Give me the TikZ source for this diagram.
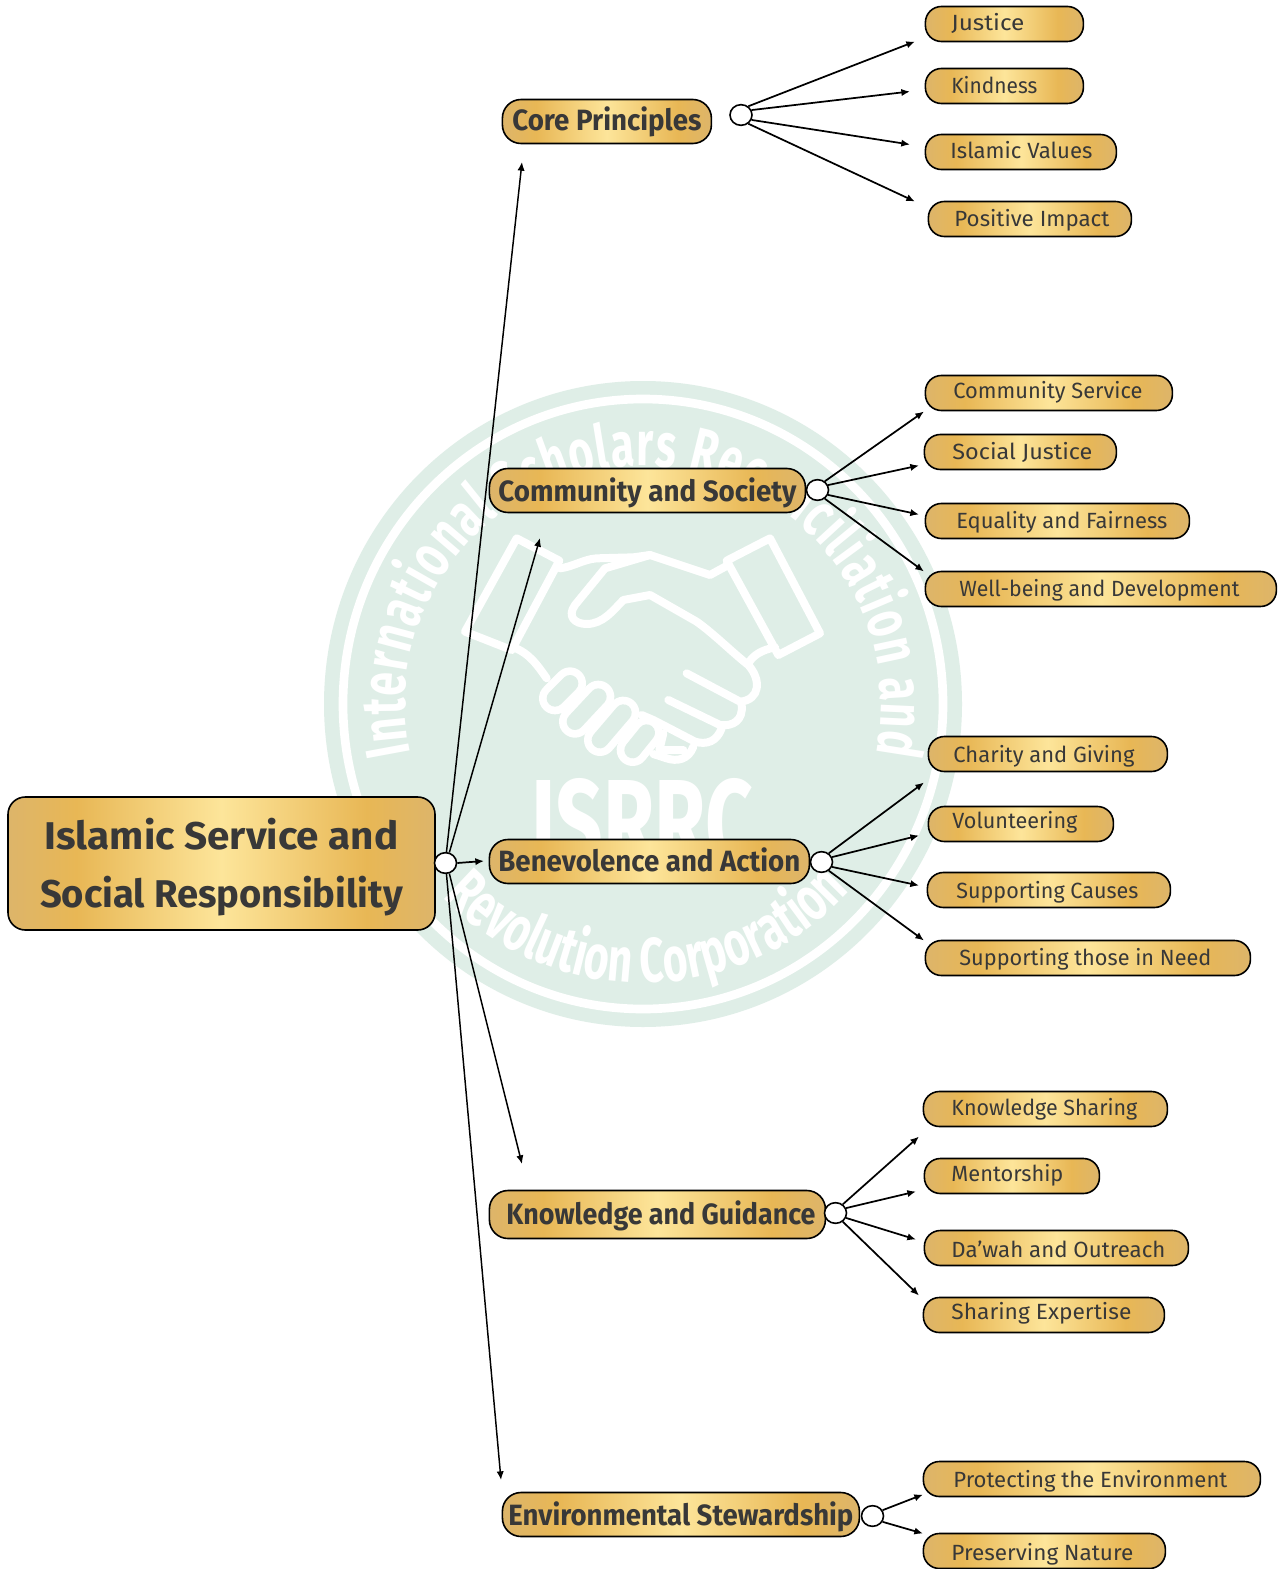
\documentclass[tikz,border=0pt]{standalone}
\usepackage{graphicx}
\usepackage{fontspec}
\setmainfont{Fira Sans}
\newfontfamily\wmfont[FakeStretch=0.68]{Fira Sans}
\usetikzlibrary{arrows.meta,decorations.text,shapes.geometric}
\definecolor{goldedge}{RGB}{221,181,106}
\definecolor{goldmid}{RGB}{232,183,85}
\definecolor{goldlight}{RGB}{253,229,154}
\definecolor{inktext}{RGB}{56,56,56}
\definecolor{discgreen}{RGB}{223,238,231}
\pgfdeclarehorizontalshading{goldbar}{100bp}{color(0bp)=(goldedge); color(25bp)=(goldedge); color(33bp)=(goldmid); color(50bp)=(goldlight); color(67bp)=(goldmid); color(75bp)=(goldedge); color(100bp)=(goldedge)}
\tikzset{
  goldbox/.style={draw=black,line width=1.2pt,shade,shading=goldbar,inner xsep=0pt,inner ysep=0pt,text=inktext,rectangle},
  leafbox/.style={goldbox,rounded corners=12pt,font=\fontsize{16.5}{20}\selectfont},
  midbox/.style={goldbox,rounded corners=14pt,font=\bfseries\fontsize{22}{26}\selectfont},
  rootbox/.style={goldbox,rounded corners=13pt,font=\bfseries\fontsize{29}{43.5}\selectfont,align=center},
  junction/.style={ellipse,draw=black,line width=1.2pt,fill=white,minimum width=16.5pt,minimum height=15.5pt,inner sep=0pt},
  link/.style={draw=black,line width=1.3pt,-{Latex[length=6.5pt,width=5.5pt]}},
  trunk/.style={link,line width=1.1pt},
  wmline/.style={draw=white,line width=6pt,line cap=round,line join=round},
  boxkind/.style={leafbox}
}
% [baseline offset]{name}{x1}{y1}{x2}{y2}{text x1}{text x2}{text}
\newcommand\gbox[9][8]{%
  \pgfmathsetmacro\bxw{(#5-#3)*0.75}%
  \pgfmathsetmacro\bxo{(#7-#3)*0.75}%
  \pgfmathsetmacro\bxt{(#8-#7)*0.75}%
  \pgfmathsetmacro\bxu{((#6-#4)/2+#1)*0.75}%
  \pgfmathsetmacro\bxd{((#6-#4)/2-#1)*0.75}%
  \node[boxkind,text height=\bxu pt,text depth=\bxd pt] (#2) at ({(#3+#5)/2+0.4},{(#4+#6)/2+0.5})
    {\makebox[\bxw pt][l]{\hspace*{\bxo pt}\resizebox{\bxt pt}{\height}{#9}}};}
\begin{document}
\begin{tikzpicture}[x=0.75pt,y=-0.75pt]
\useasboundingbox (0,0) rectangle (1277,1569);
\fill[white] (0,0) rectangle (1277,1569);
% watermark
\coordinate (wc) at (643,704);
\fill[discgreen] (wc) ellipse [x radius=319,y radius=323];
\draw[white,line width=6.5pt] (wc) ellipse [x radius=300,y radius=305];
\path[decorate,decoration={text along path,text align={fit to path},raise=0pt,
  text={|\wmfont\bfseries\fontsize{47}{47}\selectfont\color{white}|International Scholars Reconciliation and}}]
  (wc) ++(192:178.5pt) arc[start angle=192,end angle=-12,radius=178.5pt];
\path[decorate,decoration={text along path,text align={fit to path},
  text={|\wmfont\bfseries\fontsize{47}{47}\selectfont\color{white}|Revolution Corporation}}]
  (wc) ++(224:209pt) arc[start angle=224,end angle=316,radius=209pt];
\node[text=white,anchor=base,inner sep=0pt,font=\wmfont\bfseries\fontsize{92}{92}\selectfont] (wmtitle) at (642,865) {ISRRC};
\begin{scope}[shift={(450,520)},x=0.25pt,y=-0.25pt]
  \draw[wmline] (200,55) -- (328,122) -- (185,390) -- (45,335) -- cycle;
  \draw[wmline] (330,145) .. controls (370,140) and (400,118) .. (440,115) -- (550,112) -- (600,105) -- (780,165) -- (835,135);
  \draw[wmline] (600,105) -- (465,145) -- (375,255) .. controls (350,290) and (375,312) .. (410,312) .. controls (460,312) and (490,270) .. (520,240) -- (600,225) -- (740,305) .. controls (790,340) and (850,400) .. (895,435) .. controls (935,480) and (930,540) .. (870,545) -- (710,460);
  \draw[wmline] (875,555) .. controls (880,600) and (850,620) .. (810,615) -- (655,540);
  \draw[wmline] (815,625) .. controls (800,665) and (770,675) .. (735,665) -- (610,600) -- (575,585);
  \draw[wmline] (730,680) .. controls (715,720) and (680,725) .. (650,715) -- (610,702);
  \draw[wmline] (640,640) -- (628,690) -- (700,690);
  \draw[wmline] (960,55) -- (830,122) -- (985,405) -- (1110,340) -- cycle;
  \draw[wmline] (895,430) .. controls (910,405) and (935,390) .. (975,382);
  \draw[wmline] (190,382) .. controls (240,400) and (265,440) .. (290,475);
  \foreach \ax/\ay/\bbx/\bby in {315/535/360/490, 375/605/445/530, 450/660/520/578, 548/690/590/638}{
    \draw[white,line width=24pt,line cap=round] (\ax,\ay) -- (\bbx,\bby);}
  \foreach \ax/\ay/\bbx/\bby in {315/535/360/490, 375/605/445/530, 450/660/520/578, 548/690/590/638}{
    \draw[discgreen,line width=12.5pt,line cap=round] (\ax,\ay) -- (\bbx,\bby);}
\end{scope}
% root
\node[rootbox,minimum width=320.25pt,minimum height=99.75pt] (root) at (221.5,863.5)
  {\rule{0pt}{28.5pt}\resizebox{265.5pt}{\height}{Islamic Service and}\\\resizebox{272pt}{\height}{Social Responsibility}};
% branches
\tikzset{boxkind/.style={midbox}}
\gbox[9]{core}{502}{99}{711}{143}{512}{701}{Core Principles}
\gbox[10.5]{comm}{489}{468}{805}{512}{498}{796}{Community and Society}
\gbox[10]{bene}{489}{839}{809}{883}{498}{800}{Benevolence and Action}
\gbox[10]{know}{489}{1190}{825}{1238}{506}{815}{Knowledge and Guidance}
\gbox[11]{envi}{502}{1492}{859}{1536}{508}{853}{Environmental Stewardship}
% leaves
\tikzset{boxkind/.style={leafbox}}
\gbox[6.5]{l1}{925}{6}{1083}{41}{951}{1024}{Justice}
\gbox[8]{l2}{925}{68}{1083}{103}{951}{1037}{Kindness}
\gbox[7]{l3}{925}{134}{1116}{169}{950}{1092}{Islamic Values}
\gbox[8]{l4}{928}{201}{1131}{236}{954}{1109}{Positive Impact}
\gbox[5.5]{l5}{925}{375}{1172}{410}{953}{1142}{Community Service}
\gbox[7]{l6}{924}{434}{1116}{469}{952}{1092}{Social Justice}
\gbox[7]{l7}{925}{503}{1189}{538}{956}{1167}{Equality and Fairness}
\gbox[7.5]{l8}{925}{571}{1276}{606}{959}{1239}{Well-being and Development}
\gbox[8]{l9}{928}{736}{1167}{771}{953}{1134}{Charity and Giving}
\gbox[4.5]{l10}{928}{806}{1113}{841}{952}{1077}{Volunteering}
\gbox[8]{l11}{927}{872}{1170}{907}{956}{1138}{Supporting Causes}
\gbox[7]{l12}{925}{940}{1250}{975}{959}{1211}{Supporting those in Need}
\gbox[6]{l13}{923}{1091}{1167}{1126}{951}{1137}{Knowledge Sharing}
\gbox[5.5]{l14}{924}{1158}{1099}{1193}{951}{1063}{Mentorship}
\gbox[9]{l15}{924}{1230}{1188}{1265}{951}{1165}{Da'wah and Outreach}
\gbox[4.5]{l16}{923}{1297}{1164}{1332}{951}{1131}{Sharing Expertise}
\gbox[8]{l17}{923}{1461}{1260}{1496}{953}{1227}{Protecting the Environment}
\gbox[9]{l18}{923}{1533}{1165}{1568}{951}{1133}{Preserving Nature}
% junctions
\node[junction] (jroot) at (445.5,863) {};
\node[junction] (jcore) at (741,115) {};
\node[junction] (jcomm) at (817.5,490) {};
\node[junction] (jbene) at (821.5,862) {};
\node[junction] (jknow) at (835.5,1213) {};
\node[junction] (jenvi) at (872.5,1516) {};
% free arrow ends
\foreach \n/\x/\y in {a1/522/162,a2/540/538,a3/484/861,a4/522/1164,a5/501/1480,
  b1/915/41.5,b2/910/91.5,b3/910/144.5,b4/915/201.5,
  c1/924/411.5,c2/919/465.5,c3/919/514.5,c4/924/571.5,
  d1/924/782.5,d2/919/835.5,d3/919/885.5,d4/924/940.5,
  e1/919/1136.5,e2/916/1191.5,e3/916/1239.5,e4/919/1295.5,
  f1/923/1494.5,f2/923/1533.5}{\coordinate (\n) at (\x,\y);}
\draw[trunk] (jroot.85) -- (a1);
\draw[trunk] (jroot.70) -- (a2);
\draw[link] (jroot.east) -- (a3);
\draw[trunk] (jroot.-70) -- (a4);
\draw[trunk] (jroot.-85) -- (a5);
\foreach \j/\p/\q/\r/\s in {jcore/b1/b2/b3/b4,jcomm/c1/c2/c3/c4,jbene/d1/d2/d3/d4,jknow/e1/e2/e3/e4}{
  \draw[link] (\j.50) -- (\p);
  \draw[link] (\j.25) -- (\q);
  \draw[link] (\j.-25) -- (\r);
  \draw[link] (\j.-50) -- (\s);
}
\draw[link] (jenvi.30) -- (f1);
\draw[link] (jenvi.-30) -- (f2);
\end{tikzpicture}
\end{document}
